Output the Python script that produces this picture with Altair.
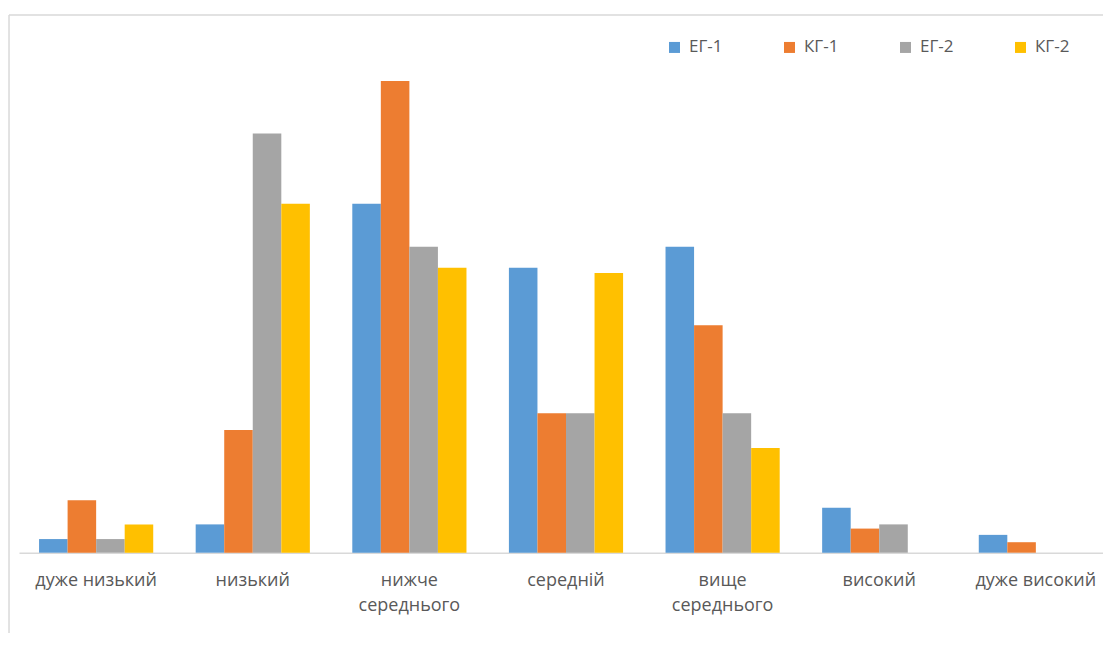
import altair as alt
import pandas as pd

categories = ["дуже низький", "низький", "нижче\nсереднього", "середній",
              "вище\nсереднього", "високий", "дуже високий"]
series = ["ЕГ-1", "КГ-1", "ЕГ-2", "КГ-2"]
eg1 = [1.3, 2.7, 33.3, 27.2, 29.2, 4.3, 1.7]
kg1 = [5.0, 11.7, 45.0, 13.3, 21.7, 2.3, 1.0]
eg2 = [1.3, 40.0, 29.2, 13.3, 13.3, 2.7, 0.0]
kg2 = [2.7, 33.3, 27.2, 26.7, 10.0, 0.0, 0.0]
colors = ["#5B9BD5", "#ED7D31", "#A5A5A5", "#FFC000"]

rows = []
for s, vals in zip(series, [eg1, kg1, eg2, kg2]):
    for c, v in zip(categories, vals):
        rows.append({"cat": c, "series": s, "value": v})
df = pd.DataFrame(rows)

FONT = "Open Sans"
TXT = "#595959"
FRAME = "#D9D9D9"

bars = alt.Chart(df).mark_bar().encode(
    x=alt.X("cat:N", sort=categories,
            scale=alt.Scale(paddingInner=0.271, paddingOuter=0.128, range=[0, 1094]),
            axis=alt.Axis(title=None, labelAngle=0, ticks=False,
                          domainColor=FRAME, domainWidth=1.5,
                          labelFont=FONT, labelFontSize=18, labelColor=TXT,
                          labelPadding=19, labelLineHeight=25,
                          labelExpr="split(datum.label, '\\n')")),
    xOffset=alt.XOffset("series:N", sort=series, scale=alt.Scale(paddingInner=0, paddingOuter=0)),
    y=alt.Y("value:Q", scale=alt.Scale(domain=[0, 50], nice=False), axis=None),
    color=alt.Color("series:N", sort=series,
                    scale=alt.Scale(domain=series, range=colors),
                    legend=alt.Legend(title=None, orient="none", direction="horizontal",
                                      columns=4, legendX=647, legendY=10,
                                      symbolType="square", symbolSize=121,
                                      symbolStrokeWidth=0, labelOffset=6,
                                      columnPadding=58,
                                      labelFont=FONT, labelFontSize=17,
                                      labelColor=TXT)),
)

one = pd.DataFrame({"a": [0]})
frame_left = alt.Chart(one).mark_rule(color=FRAME, strokeWidth=1.5, clip=False).encode(
    x=alt.value(-10), y=alt.value(-13.7), y2=alt.value(700))
frame_top = alt.Chart(one).mark_rule(color=FRAME, strokeWidth=1.5, clip=False).encode(
    x=alt.value(-10), x2=alt.value(1200), y=alt.value(-13.7))

chart = alt.layer(frame_left, frame_top, bars).properties(
    width=1084, height=524,
    autosize=alt.AutoSizeParams(type="none"),
    padding={"left": 11, "top": 20.7, "right": 0, "bottom": 80},
).configure(background="white").configure_view(stroke=None, strokeWidth=0)

chart.save("out.html", embed_options={"renderer": "svg", "actions": False})
